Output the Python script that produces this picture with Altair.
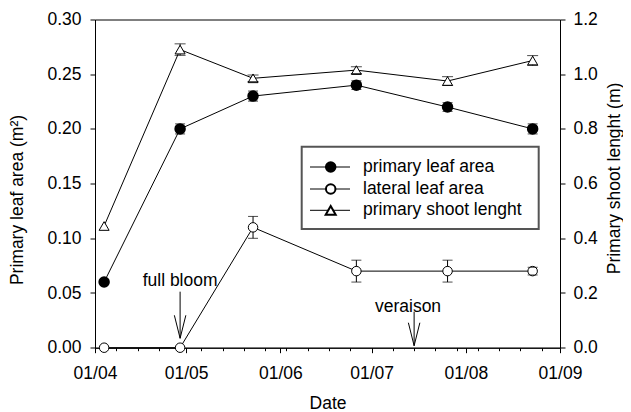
import altair as alt
import pandas as pd

YEAR = 2009
# sampling dates (day/month)
dates = ["04-04", "04-29", "05-23", "06-26", "07-26", "08-23"]
primary_leaf_area = [0.060, 0.200, 0.230, 0.240, 0.220, 0.200]
primary_leaf_err = [0.000, 0.0046, 0.0046, 0.004, 0.004, 0.0046]
lateral_leaf_area = [0.000, 0.000, 0.110, 0.070, 0.070, 0.070]
lateral_leaf_err = [0.000, 0.000, 0.010, 0.010, 0.010, 0.0035]
shoot_length = [0.445, 1.090, 0.985, 1.015, 0.975, 1.050]
shoot_err = [0.000, 0.021, 0.012, 0.012, 0.016, 0.018]

series_names = ["primary leaf area", "lateral leaf area", "primary shoot lenght"]
x_axis_title = "Date"
left_title = "Primary leaf area (m²)"
right_title = "Primary shoot lenght (m)"
left_ticks = [0.0, 0.05, 0.10, 0.15, 0.20, 0.25, 0.30]
right_ticks = [0.0, 0.2, 0.4, 0.6, 0.8, 1.0, 1.2]
major_months = [4, 5, 6, 7, 8, 9]
minor_days = [(4, 1), (4, 8), (4, 15), (4, 22), (4, 29), (5, 6), (5, 13), (5, 20), (5, 27),
              (6, 3), (6, 10), (6, 17), (6, 24), (7, 1), (7, 8), (7, 15), (7, 22), (7, 29),
              (8, 5), (8, 12), (8, 19), (8, 26)]

# annotations: label, label date, label y, arrow date, arrow top, arrow tip
annot_labels = ["full bloom", "veraison"]
annot_label_dates = ["04-29", "07-13"]
annot_label_y = [0.061, 0.0375]
annot_arrow_dates = ["04-29", "07-15"]
annot_arrow_top = [0.0512, 0.0329]
annot_arrow_tip = [0.0086, 0.0018]

FONT = "Liberation Sans"
FS = 17.5

def dt(md):
    return f"{YEAR}-{md}"

def frame(vals, errs, name):
    df = pd.DataFrame({"date": [dt(m) for m in dates], "value": vals, "err": errs})
    df["lo"] = df["value"] - df["err"]
    df["hi"] = df["value"] + df["err"]
    df["series"] = name
    return df

prim = frame(primary_leaf_area, primary_leaf_err, series_names[0])
lat = frame(lateral_leaf_area, lateral_leaf_err, series_names[1])
sho = frame(shoot_length, shoot_err, series_names[2])
left_df = pd.concat([prim, lat], ignore_index=True)
left_err = left_df[left_df["err"] > 0]
sho_err = sho[sho["err"] > 0]

xscale = alt.Scale(type="utc", domain=[alt.DateTime(year=YEAR, month=4, date=1, utc=True),
                                       alt.DateTime(year=YEAR, month=9, date=1, utc=True)])
major_axis = alt.Axis(orient="bottom", values=[alt.DateTime(year=YEAR, month=m, date=1, utc=True) for m in major_months],
                      labelExpr="utcFormat(datum.value, '%d/%m')", tickSize=5, labelPadding=12, grid=False,
                      labelFlush=False, labelOverlap=False, title=x_axis_title,
                      titleX=232.5, titleY=60.5, titleBaseline="alphabetic", titleAlign="center")
minor_axis = alt.Axis(orient="bottom", values=[alt.DateTime(year=YEAR, month=m, date=d, utc=True) for m, d in minor_days],
                      labels=False, domain=False, tickSize=3, grid=False, title=None)

def xmaj():
    return alt.X("date:T", scale=xscale, axis=major_axis)

def xmin():
    return alt.X("date:T", scale=xscale, axis=minor_axis)

lscale = alt.Scale(domain=[0, 0.3], nice=False, zero=False)
laxis = alt.Axis(orient="left", values=left_ticks, format=".2f", tickSize=5, labelPadding=9, grid=False,
                 title=left_title, titleAngle=270, titleX=-72.5, titleY=180, titleBaseline="alphabetic",
                 titleAlign="center")
rscale = alt.Scale(domain=[0, 1.2], nice=False, zero=False)
raxis = alt.Axis(orient="right", values=right_ticks, format=".1f", tickSize=5, labelPadding=8, grid=False,
                 title=right_title, titleAngle=270, titleX=59, titleY=158.5, titleBaseline="alphabetic",
                 titleAlign="center")

def yl(f):
    return alt.Y(f + ":Q", scale=lscale, axis=laxis)

def yr(f):
    return alt.Y(f + ":Q", scale=rscale, axis=raxis)

# ---- left group
lines_l = alt.Chart(left_df).mark_line(color="black", strokeWidth=1).encode(x=xmaj(), y=yl("value"), detail="series:N")
rules_l = alt.Chart(left_err).mark_rule(color="black", strokeWidth=1).encode(x=xmaj(), y=yl("lo"), y2="hi")
pts_p = alt.Chart(prim).mark_point(shape="circle", filled=True, fill="black", stroke="black", size=90, opacity=1).encode(x=xmaj(), y=yl("value"))
pts_l = alt.Chart(lat).mark_point(shape="circle", filled=True, fill="white", stroke="black", strokeWidth=1, size=90, opacity=1).encode(x=xmaj(), y=yl("value"))
caps_lo = alt.Chart(left_err).mark_tick(orient="horizontal", size=10, thickness=1, color="black").encode(x=xmaj(), y=yl("lo"))
caps_hi = alt.Chart(left_err).mark_tick(orient="horizontal", size=10, thickness=1, color="black").encode(x=xmaj(), y=yl("hi"))

ann = pd.DataFrame({"label": annot_labels,
                    "ldate": [dt(m) for m in annot_label_dates], "ly": annot_label_y,
                    "adate": [dt(m) for m in annot_arrow_dates], "top": annot_arrow_top, "tip": annot_arrow_tip})
arrow_x = alt.X("adate:T", scale=xscale, axis=major_axis)
arrows = alt.Chart(ann).mark_rule(color="black", strokeWidth=1).encode(x=arrow_x, y=yl("top"), y2="tip")
heads = alt.Chart(ann).mark_point(shape="M-0.5,-2L0,0L0.5,-2", filled=False, stroke="black", strokeWidth=1,
                                  size=529, opacity=1).encode(x=arrow_x, y=yl("tip"))
ann_text = alt.Chart(ann).mark_text(font=FONT, fontSize=FS, color="black", align="center", baseline="middle").encode(
    x=alt.X("ldate:T", scale=xscale, axis=major_axis), y=yl("ly"), text="label:N")

# ---- legend (drawn in plot-area pixels)
leg_df = pd.DataFrame({"label": series_names})
box = alt.Chart(leg_df.head(1)).mark_rect(fill="white", stroke="#555555", strokeWidth=2).encode(
    x=alt.value(206.7), x2=alt.value(443.7), y=alt.value(127.2), y2=alt.value(209.5))
legend_layers = [box]
row_y = [147.5, 169.5, 190.8]
for i, name in enumerate(series_names):
    one = pd.DataFrame({"label": [name]})
    legend_layers.append(alt.Chart(one).mark_rule(color="black", strokeWidth=1).encode(
        x=alt.value(215), x2=alt.value(255), y=alt.value(row_y[i])))
    if i == 0:
        m = alt.Chart(one).mark_point(shape="circle", filled=True, fill="black", stroke="black", size=90, opacity=1)
    elif i == 1:
        m = alt.Chart(one).mark_point(shape="circle", filled=True, fill="white", stroke="black", size=90, opacity=1)
    else:
        m = alt.Chart(one).mark_point(shape="triangle-up", filled=True, fill="white", stroke="black", size=100, opacity=1)
    legend_layers.append(m.encode(x=alt.value(235.7), y=alt.value(row_y[i])))
    legend_layers.append(alt.Chart(one).mark_text(font=FONT, fontSize=FS, color="black", align="left", baseline="middle").encode(
        x=alt.value(268), y=alt.value(row_y[i]), text="label:N"))

left = alt.layer(lines_l, rules_l, pts_p, pts_l, caps_lo, caps_hi, arrows, heads, ann_text, *legend_layers)

# ---- right group (primary shoot length)
line_s = alt.Chart(sho).mark_line(color="black", strokeWidth=1).encode(x=xmin(), y=yr("value"))
rules_s = alt.Chart(sho_err).mark_rule(color="black", strokeWidth=1).encode(x=xmin(), y=yr("lo"), y2="hi")
pts_s = alt.Chart(sho).mark_point(shape="triangle-up", filled=True, fill="white", stroke="black", strokeWidth=1, size=100, opacity=1).encode(x=xmin(), y=yr("value"))
caps_slo = alt.Chart(sho_err).mark_tick(orient="horizontal", size=11, thickness=1, color="black").encode(x=xmin(), y=yr("lo"))
caps_shi = alt.Chart(sho_err).mark_tick(orient="horizontal", size=11, thickness=1, color="black").encode(x=xmin(), y=yr("hi"))
right = alt.layer(line_s, rules_s, pts_s, caps_slo, caps_shi)

chart = alt.layer(left, right).resolve_scale(y="independent").resolve_axis(x="independent").properties(
    width=465, height=328.2,
    autosize=alt.AutoSizeParams(type="none"),
    padding={"left": 87, "top": 11.5, "right": 63, "bottom": 64.3},
).configure_view(stroke="black", strokeWidth=1).configure_axis(
    labelFont=FONT, labelFontSize=FS, labelColor="black", titleFont=FONT, titleFontSize=FS,
    titleFontWeight="normal", titleColor="black", domainColor="black", tickColor="black",
    domainWidth=1, tickWidth=1
)

chart.save("out.html", embed_options={"renderer": "svg", "actions": False})
